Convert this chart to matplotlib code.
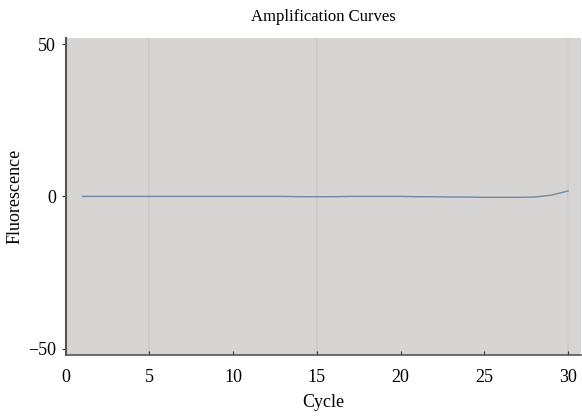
import numpy as np
import matplotlib.pyplot as plt

# amplification curve
cycle = np.arange(1, 31)
fluor = [0.0, 0.0, 0.0, 0.0, 0.0, 0.0, 0.0, 0.0, 0.0, 0.0,
         0.0, 0.0, 0.0, -0.1, -0.1, -0.1, 0.0, 0.0, 0.0, 0.0,
         -0.1, -0.1, -0.2, -0.2, -0.3, -0.3, -0.3, -0.2, 0.4, 1.8]

xticks = [0, 5, 10, 15, 20, 25, 30]
yticks = [-50, 0, 50]

plt.rcParams['font.family'] = ['Liberation Serif', 'DejaVu Serif']

fig = plt.figure(figsize=(5.82, 4.17), dpi=100)
ax = fig.add_axes([0.113, 0.149, 0.886, 0.760])
ax.set_facecolor('#d6d5d3')

# faint vertical grid lines
for gx in [5, 15, 30]:
    ax.axvline(gx, color='#cdccca', linewidth=1.5, zorder=0)

ax.plot(cycle, fluor, color='#7088a8', linewidth=1.0)

ax.set_xlim(0, 30.8)
ax.set_ylim(-52, 52)
ax.set_xticks(xticks)
ax.set_yticks(yticks)
ax.tick_params(axis='both', labelsize=13, length=3, color='#333333')
ax.tick_params(axis='x', direction='in', pad=10)
ax.tick_params(axis='y', pad=4)

for s in ['top', 'right']:
    ax.spines[s].set_visible(False)
ax.spines['left'].set_color('#555555')
ax.spines['bottom'].set_color('#555555')
ax.spines['left'].set_linewidth(1.5)
ax.spines['bottom'].set_linewidth(1.2)

ax.set_title('Amplification Curves', fontsize=12, pad=12)
ax.set_xlabel('Cycle', fontsize=13, labelpad=6)
ax.set_ylabel('Fluorescence', fontsize=13, labelpad=3)

plt.savefig('out.png', dpi=100)
